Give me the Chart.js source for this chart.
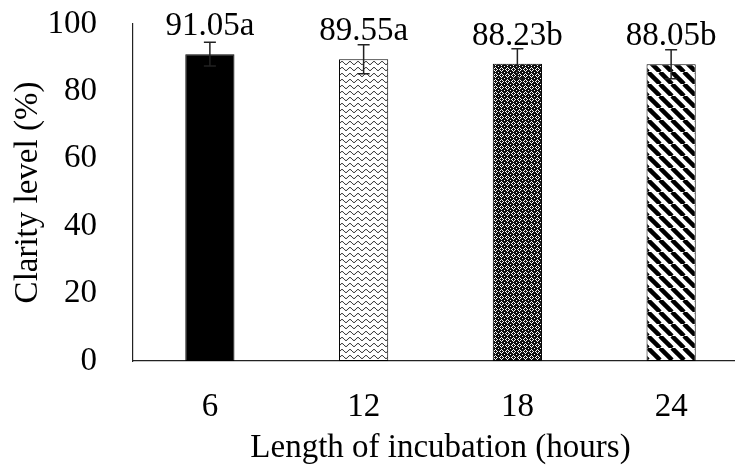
<!DOCTYPE html>
<html>
<head>
<meta charset="utf-8">
<script src="https://cdn.jsdelivr.net/npm/chart.js@4/dist/chart.umd.min.js"></script>
<style>
  body { margin: 0; background: #fff; }
  #wrap { width: 735px; height: 465px; overflow: hidden; }
</style>
</head>
<body>
<div id="wrap"><canvas id="grafico" width="760" height="465"></canvas></div>
<script>
// incubation hours on the x axis
const horas = ['6', '12', '18', '24'];
// clarity means (%) with their error and significance letters
const claridad = [91.05, 89.55, 88.23, 88.05];
const errores = [3.5, 4.3, 4.4, 4.3];
const letras = ['a', 'a', 'b', 'b'];
const yMin = 0, yMax = 100, yPaso = 20;

const fuente = '"Liberation Serif", "Times New Roman", serif';

function patron(w, h, dibujar) {
  const c = document.createElement('canvas');
  c.width = w; c.height = h;
  const g = c.getContext('2d');
  dibujar(g, w, h);
  return document.getElementById('grafico').getContext('2d').createPattern(c, 'repeat');
}

// wavy lines
const ondas = patron(8, 6, (g, w, h) => {
  g.fillStyle = '#fff'; g.fillRect(0, 0, w, h);
  g.strokeStyle = '#000'; g.lineWidth = 1;
  g.beginPath();
  for (let x = 0; x <= w; x += 0.5) {
    const y = 3 + 1.5 * Math.sin(x / w * Math.PI * 2);
    if (x === 0) g.moveTo(x, y); else g.lineTo(x, y);
  }
  g.stroke();
});

// dark diamond lattice
const rombos = patron(6, 6, (g, w, h) => {
  g.fillStyle = '#111'; g.fillRect(0, 0, w, h);
  g.fillStyle = '#fff';
  [[3,1],[2,2],[4,2],[1,3],[5,3],[2,4],[4,4],[3,5],[0,0]].forEach(p => g.fillRect(p[0], p[1], 1, 1));
});

// wide diagonal stripes
const rayas = patron(12, 12, (g, w, h) => {
  g.fillStyle = '#fff'; g.fillRect(0, 0, w, h);
  g.strokeStyle = '#000'; g.lineWidth = 4.5;
  [-w, 0, w].forEach(d => {
    g.beginPath(); g.moveTo(d, 0); g.lineTo(d + w, h); g.stroke();
  });
});

const errorBars = {
  id: 'errorBars',
  afterDatasetsDraw(chart) {
    const ctx = chart.ctx;
    const y = chart.scales.y;
    const meta = chart.getDatasetMeta(0);
    ctx.save();
    ctx.strokeStyle = '#222';
    ctx.lineWidth = 1.5;
    meta.data.forEach((bar, i) => {
      const top = y.getPixelForValue(claridad[i] + errores[i]);
      const bot = y.getPixelForValue(claridad[i] - errores[i]);
      const x = bar.x, cap = 6;
      ctx.beginPath();
      ctx.moveTo(x, top); ctx.lineTo(x, bot);
      ctx.moveTo(x - cap, top); ctx.lineTo(x + cap, top);
      ctx.moveTo(x - cap, bot); ctx.lineTo(x + cap, bot);
      ctx.stroke();
    });
    ctx.restore();
  }
};

const etiquetas = {
  id: 'etiquetas',
  afterDatasetsDraw(chart) {
    const ctx = chart.ctx;
    const meta = chart.getDatasetMeta(0);
    ctx.save();
    ctx.fillStyle = '#000';
    ctx.font = '33px ' + fuente;
    ctx.textAlign = 'center';
    ctx.textBaseline = 'alphabetic';
    meta.data.forEach((bar, i) => {
      ctx.fillText(claridad[i].toFixed(2) + letras[i], bar.x, bar.y - 19);
    });
    ctx.restore();
  }
};

new Chart(document.getElementById('grafico'), {
  type: 'bar',
  data: {
    labels: horas,
    datasets: [{
      data: claridad,
      backgroundColor: ['#000', ondas, rombos, rayas],
      borderColor: '#000',
      borderWidth: 1,
      borderSkipped: false,
      barPercentage: 0.32,
      categoryPercentage: 1
    }]
  },
  options: {
    responsive: false,
    animation: false,
    layout: { autoPadding: false, padding: { top: 24, right: 12, left: 0, bottom: 0 } },
    plugins: { legend: { display: false }, tooltip: { enabled: false } },
    scales: {
      x: {
        grid: { display: false },
        border: { display: true, color: '#222', width: 1.2 },
        ticks: { color: '#000', font: { family: fuente, size: 33 }, padding: 19 },
        title: {
          display: true,
          text: 'Length of incubation (hours)',
          color: '#000',
          font: { family: fuente, size: 33, lineHeight: 1 },
          padding: { top: 0, bottom: 0 }
        },
        afterFit: s => { s.height = 104; s.paddingLeft = 0; s.paddingRight = 0; }
      },
      y: {
        min: yMin,
        max: yMax,
        grid: { display: false },
        border: { display: true, color: '#222', width: 1.2 },
        ticks: { stepSize: yPaso, color: '#000', font: { family: fuente, size: 33 }, padding: 28 },
        title: {
          display: true,
          text: 'Clarity level (%)',
          color: '#000',
          font: { family: fuente, size: 33, lineHeight: 1 },
          padding: { top: 12, bottom: 0 }
        },
        afterFit: s => { s.width = 133; s.paddingTop = 0; s.paddingBottom = 0; }
      }
    }
  },
  plugins: [errorBars, etiquetas]
});
</script>
</body>
</html>
